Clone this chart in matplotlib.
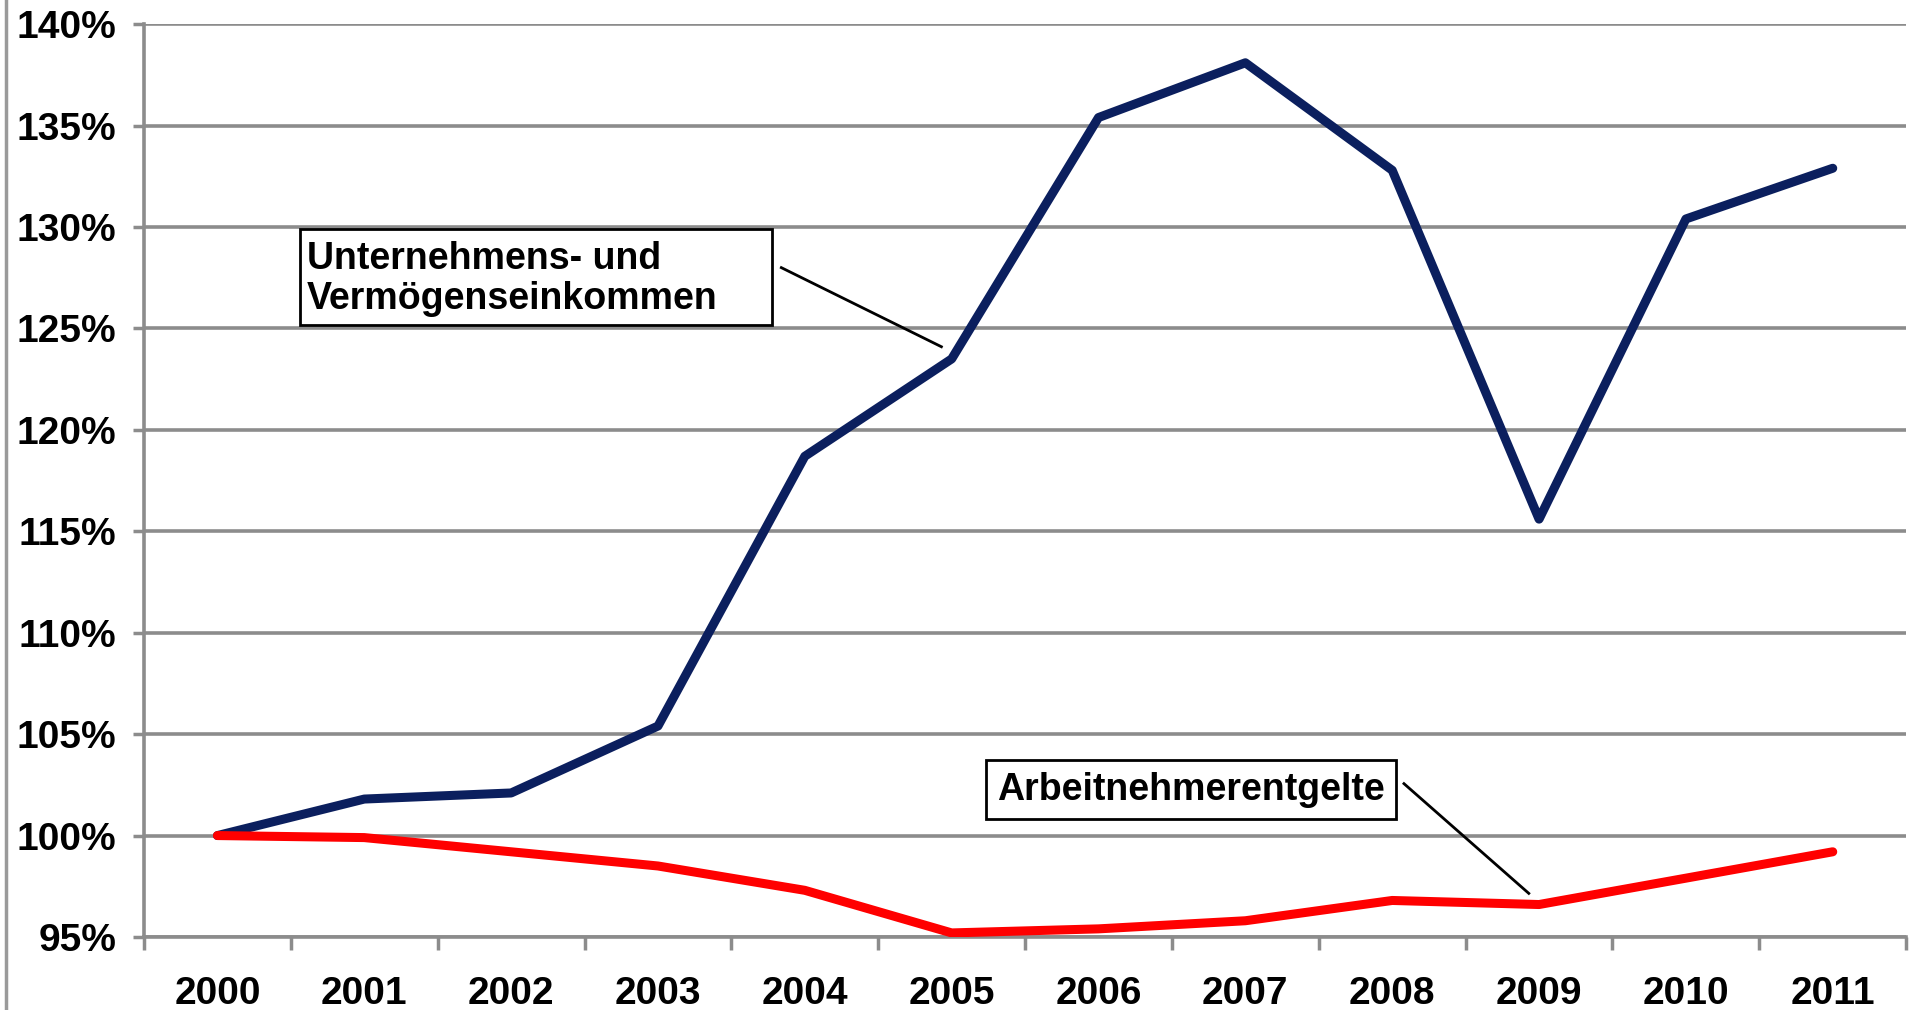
import matplotlib.pyplot as plt
from matplotlib.lines import Line2D
from matplotlib.patches import Rectangle

plt.rcParams['font.family'] = ['Liberation Sans', 'DejaVu Sans']
plt.rcParams['font.weight'] = 'bold'

years = ['2000', '2001', '2002', '2003', '2004', '2005',
         '2006', '2007', '2008', '2009', '2010', '2011']
unternehmen = [100.0, 101.8, 102.1, 105.4, 118.7, 123.5,
               135.4, 138.1, 132.8, 115.6, 130.4, 132.9]
arbeitnehmer = [100.0, 99.9, 99.2, 98.5, 97.3, 95.2,
                95.4, 95.8, 96.8, 96.6, 97.9, 99.2]
yticks = [95, 100, 105, 110, 115, 120, 125, 130, 135, 140]

grid_col = '#8c8c8c'

fig = plt.figure(figsize=(19.1, 10.1), dpi=100)
ax = fig.add_axes([0.0754, 0.0723, 0.9226, 0.9037])

x = list(range(len(years)))
ax.plot(x, unternehmen, color='#0b1f5e', lw=6.5, solid_capstyle='round',
        solid_joinstyle='round', zorder=3)
ax.plot(x, arbeitnehmer, color='#ff0000', lw=6.5, solid_capstyle='round',
        solid_joinstyle='round', zorder=3)

ax.set_xlim(-0.5, len(years) - 0.5)
ax.set_ylim(95, 140)

ax.set_yticks(yticks)
ax.set_yticklabels([f'{v}%' for v in yticks])
ax.set_xticks(x)
ax.set_xticklabels(years)
ax.set_xticks([i - 0.5 for i in range(len(years) + 1)], minor=True)

ax.tick_params(axis='y', length=8, width=2.5, color=grid_col, pad=12, labelsize=28)
ax.tick_params(axis='x', which='major', length=0, pad=28, labelsize=28)
ax.tick_params(axis='x', which='minor', length=9, width=2.5, color=grid_col)

ax.grid(axis='y', color=grid_col, lw=2.6)
ax.set_axisbelow(True)
for s in ['top', 'right']:
    ax.spines[s].set_visible(False)
for s in ['left', 'bottom']:
    ax.spines[s].set_color(grid_col)
    ax.spines[s].set_linewidth(2.6)

# labels with connector lines
ax.add_patch(Rectangle((0.564, 125.16), 3.21, 4.74, fc='white', ec='black',
                       lw=2, zorder=4))
ax.text(0.61, 127.45, 'Unternehmens- und\nVermögenseinkommen', fontsize=27,
        fontweight='bold', va='center', ha='left', linespacing=1.15, zorder=5)
ax.plot([3.84, 4.93], [128.0, 124.1], color='black', lw=2, zorder=4)

box = dict(boxstyle='square,pad=0.3', fc='white', ec='black', lw=2)
ax.text(5.31, 102.26, 'Arbeitnehmerentgelte', fontsize=27,
        fontweight='bold', va='center', ha='left', bbox=box, zorder=4)
ax.plot([8.08, 8.93], [102.56, 97.15], color='black', lw=2, zorder=4)

# chart border on the left
fig.add_artist(Line2D([0.003, 0.003], [0, 1], color='#9a9a9a', lw=2.5))

plt.savefig('out.png', dpi=100)
plt.close()
